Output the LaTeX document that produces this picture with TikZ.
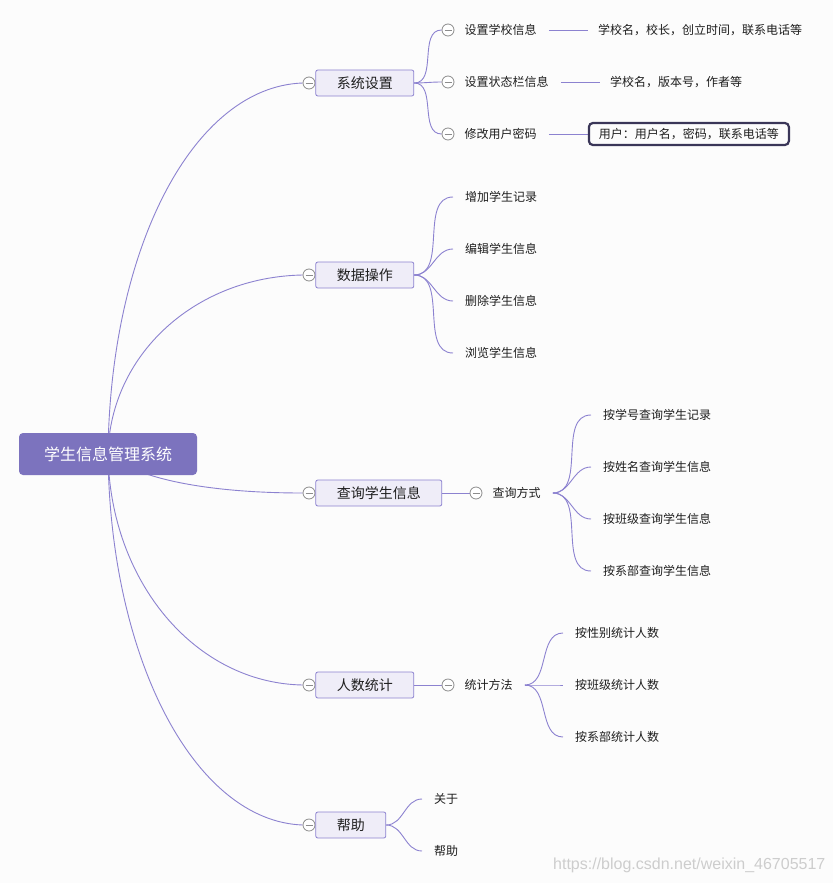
\documentclass[tikz,border=0pt]{standalone}
\usepackage{fontspec}
\setmainfont{Noto Sans CJK SC}
\newfontfamily\urlfont{Liberation Sans}
\usetikzlibrary{positioning}
\definecolor{paper}{RGB}{252,252,252}
\definecolor{linkcol}{RGB}{140,130,208}
\definecolor{rootcol}{RGB}{124,115,190}
\definecolor{topicfill}{RGB}{239,237,248}
\definecolor{foldcol}{RGB}{140,140,140}
\definecolor{notecol}{RGB}{58,54,88}
\definecolor{inkcol}{RGB}{30,30,30}
\definecolor{markcol}{RGB}{205,205,205}
\pgfdeclarelayer{paperlayer}
\pgfdeclarelayer{linklayer}
\pgfsetlayers{paperlayer,linklayer,main}

\begin{document}
\begin{tikzpicture}[x=1pt, y=-1pt, node distance=0pt,
    centre/.style={fill=rootcol, rounded corners=4pt, text=white, font=\fontsize{16}{18}\selectfont, inner xsep=25pt, inner ysep=0pt, minimum height=42pt},
    topic/.style={draw=linkcol, line width=0.8pt, fill=topicfill, rounded corners=2pt, text=inkcol, font=\fontsize{14}{16}\selectfont, inner xsep=21pt, inner ysep=0pt, minimum height=26pt},
    fold/.style={circle, draw=foldcol, line width=0.8pt, fill=white, minimum size=12pt, inner sep=0pt, path picture={\draw[foldcol, line width=0.8pt] ([xshift=-3.5pt]path picture bounding box.center) -- ([xshift=3.5pt]path picture bounding box.center);}},
    item/.style={text=inkcol, font=\fontsize{12}{14}\selectfont, inner xsep=12pt, inner ysep=2pt},
    note/.style={item, inner xsep=10pt},
    linkline/.style={draw=linkcol, line width=0.9pt},
    fanline/.style={linkline, out=0, in=180}]
    \useasboundingbox (0,0) rectangle (833,883);
    \begin{pgfonlayer}{paperlayer}
        \fill[paper] (0,0) rectangle (833,883);
    \end{pgfonlayer}

    \node[centre] (sys) at (108,454) {学生信息管理系统};

    % 系统设置
    \node[fold] (k1) at (309,83) {};
    \node[topic, right=of k1] (b1) {系统设置};
    \node[fold] (k11) at (448,30) {};
    \node[fold] (k12) at (448,82) {};
    \node[fold] (k13) at (448,134) {};
    \node[item, right=-2pt of k11] (s11) {设置学校信息};
    \node[item, right=-2pt of k12] (s12) {设置状态栏信息};
    \node[item, right=-2pt of k13] (s13) {修改用户密码};
    \node[note, right=39pt of s11] (n11) {学校名，校长，创立时间，联系电话等};
    \node[note, right=39pt of s12] (n12) {学校名，版本号，作者等};
    \node[note, draw=notecol, line width=2.2pt, rounded corners=4pt, inner ysep=0pt, minimum height=22pt, right=39pt of s13] (n13) {用户：用户名，密码，联系电话等};

    % 数据操作
    \node[fold] (k2) at (309,275) {};
    \node[topic, right=of k2] (b2) {数据操作};
    \node[item, anchor=west] (s21) at (453,197) {增加学生记录};
    \node[item, anchor=west] (s22) at (453,249) {编辑学生信息};
    \node[item, anchor=west] (s23) at (453,301) {删除学生信息};
    \node[item, anchor=west] (s24) at (453,353) {浏览学生信息};

    % 查询学生信息
    \node[fold] (k3) at (309,493) {};
    \node[topic, right=of k3] (b3) {查询学生信息};
    \node[fold] (k31) at (476,493) {};
    \node[item, right=-2pt of k31] (s31) {查询方式};
    \node[item, anchor=west] (s311) at (591,415) {按学号查询学生记录};
    \node[item, anchor=west] (s312) at (591,467) {按姓名查询学生信息};
    \node[item, anchor=west] (s313) at (591,519) {按班级查询学生信息};
    \node[item, anchor=west] (s314) at (591,571) {按系部查询学生信息};

    % 人数统计
    \node[fold] (k4) at (309,685) {};
    \node[topic, right=of k4] (b4) {人数统计};
    \node[fold] (k41) at (448,685) {};
    \node[item, right=-2pt of k41] (s41) {统计方法};
    \node[item, anchor=west] (s411) at (563,633) {按性别统计人数};
    \node[item, anchor=west] (s412) at (563,685) {按班级统计人数};
    \node[item, anchor=west] (s413) at (563,737) {按系部统计人数};

    % 帮助
    \node[fold] (k5) at (309,825) {};
    \node[topic, right=of k5] (b5) {帮助};
    \node[item, anchor=west] (s51) at (422,799) {关于};
    \node[item, anchor=west] (s52) at (422,851) {帮助};

    \node[font=\urlfont\fontsize{16}{18}\selectfont, text=markcol, anchor=base west, inner sep=0pt] (mark) at (553,869) {https://blog.csdn.net/weixin\_46705517};

    \begin{pgfonlayer}{linklayer}
        \draw[linkline] (sys.center) .. controls +(2,-205) and +(-110,4) .. (k1.west);
        \draw[linkline] (sys.center) .. controls +(2,-99) and +(-108,2) .. (k2.west);
        \draw[linkline] (sys.center) .. controls +(30,26) and +(-90,0) .. (k3.west);
        \draw[linkline] (sys.center) .. controls +(2,127) and +(-108,-2) .. (k4.west);
        \draw[linkline] (sys.center) .. controls +(2,205) and +(-108,-4) .. (k5.west);

        \foreach \n in {k11,k12,k13} \draw[fanline] (b1.east) to (\n.west);
        \draw[linkline] (s11) -- (n11);
        \draw[linkline] (s12) -- (n12);
        \draw[linkline] (s13) -- (n13);

        \foreach \n in {s21,s22,s23,s24} \draw[fanline] (b2.east) to (\n.west);

        \draw[linkline] (b3) -- (k31);
        \foreach \n in {s311,s312,s313,s314} \draw[fanline] (s31.east) to (\n.west);

        \draw[linkline] (b4) -- (k41);
        \foreach \n in {s411,s412,s413} \draw[fanline] (s41.east) to (\n.west);

        \foreach \n in {s51,s52} \draw[fanline] (b5.east) to (\n.west);
    \end{pgfonlayer}
\end{tikzpicture}
\end{document}
